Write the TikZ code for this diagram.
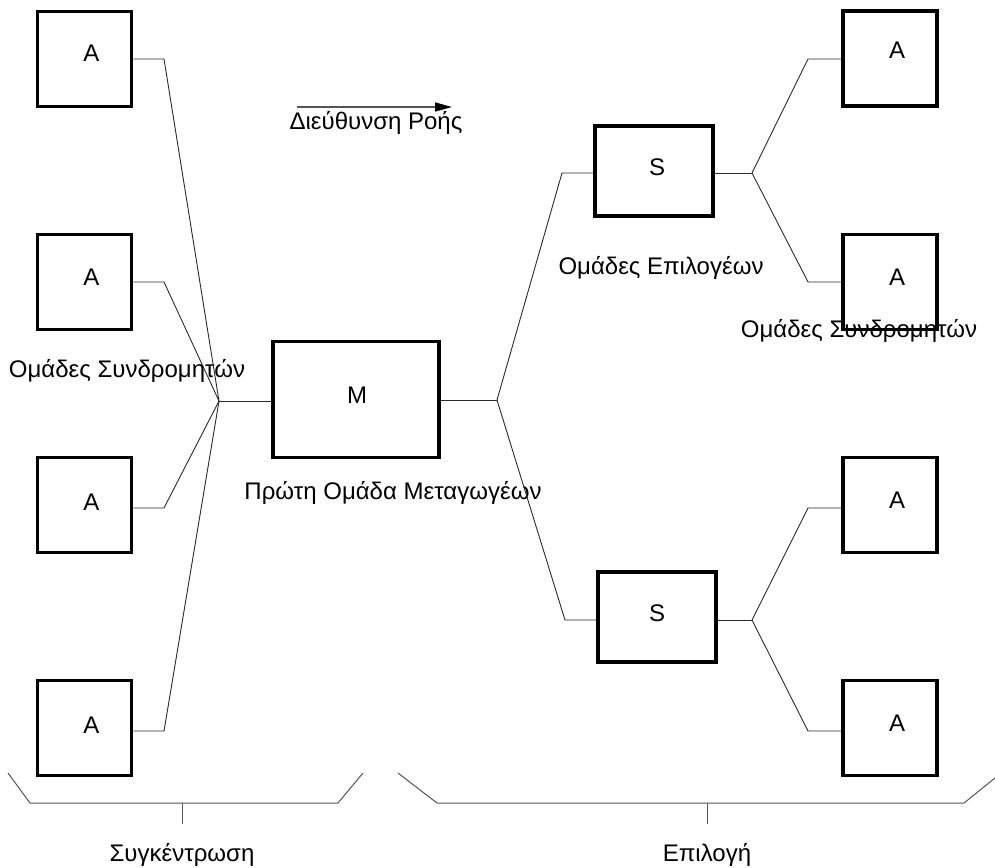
\documentclass[tikz,border=0pt]{standalone}
\usepackage{fontspec}
\setmainfont{Liberation Sans}
\usetikzlibrary{arrows.meta,positioning,calc}
\definecolor{wirec}{HTML}{2A2A2A}
\definecolor{bracec}{HTML}{555555}

\begin{document}
\begin{tikzpicture}[x=1pt,y=-1pt,font=\fontsize{24}{28}\selectfont,
    abox/.style={draw,line width=3.6pt,minimum width=94pt,minimum height=95pt,inner sep=0pt},
    sbox/.style={draw,line width=3.6pt,minimum width=118pt,minimum height=90pt,inner sep=0pt},
    mbox/.style={draw,line width=3.6pt,minimum width=166pt,minimum height=116pt,inner sep=0pt},
    wire/.style={draw=wirec,line width=0.9pt},
    bracket/.style={draw=bracec,line width=1pt},
    lbl/.style={inner sep=0pt}]
    \useasboundingbox (0,0) rectangle (995,867);
    % left subscriber groups
    \node[abox] (a1) at (84.5,59) {};
    \node[lbl] (a1t) at (91.5,53) {A};
    \node[abox] (a2) at (84.5,282) {};
    \node[lbl] (a2t) at (91.5,277) {A};
    \node[abox] (a3) at (84.5,505) {};
    \node[lbl] (a3t) at (91.5,502) {A};
    \node[abox] (a4) at (84.5,728) {};
    \node[lbl] (a4t) at (91.5,725) {A};
    \node[lbl] (lsub) at (127,371) {Ομάδες Συνδρομητών};
    % first switch group
    \node[mbox] (m) at (356,399.5) {};
    \node[lbl] (mt) at (357,395) {M};
    \node[lbl] (mlbl) at (393,493) {Πρώτη Ομάδα Μεταγωγέων};
    % selector groups
    \node[sbox] (s1) at (654,170.7) {};
    \node[lbl] (s1t) at (657,167) {S};
    \node[lbl] (slbl) at (661,268) {Ομάδες Επιλογέων};
    \node[sbox] (s2) at (657,617) {};
    \node[lbl] (s2t) at (657,613) {S};
    % right subscriber groups
    \node[abox] (a5) at (889.8,58.7) {};
    \node[lbl] (a5t) at (897,50) {A};
    \node[abox] (a6) at (889.8,282) {};
    \node[lbl] (a6t) at (897,277) {A};
    \node[abox] (a7) at (889.8,505) {};
    \node[lbl] (a7t) at (897,500) {A};
    \node[abox] (a8) at (889.8,728) {};
    \node[lbl] (a8t) at (897,723) {A};
    \node[lbl] (rsub) at (859,331) {Ομάδες Συνδρομητών};
    % junctions and bends
    \coordinate (jl) at (219,401);
    \coordinate (jm) at (497,400);
    \coordinate (js1) at (752,173);
    \coordinate (js2) at (752,620);
    \coordinate (k1) at (164,59);
    \coordinate (k2) at (164,282);
    \coordinate (k3) at (164,508);
    \coordinate (k4) at (164,731);
    \coordinate (ks1) at (562,173);
    \coordinate (ks2) at (565,620);
    \coordinate (k5) at (808,59);
    \coordinate (k6) at (808,282);
    \coordinate (k7) at (808,508);
    \coordinate (k8) at (808,731);
    \draw[wire] (a1.east |- k1) -- (k1) -- (jl);
    \draw[wire] (a2.east |- k2) -- (k2) -- (jl);
    \draw[wire] (a3.east |- k3) -- (k3) -- (jl);
    \draw[wire] (a4.east |- k4) -- (k4) -- (jl);
    \draw[wire] (jl) -- (m.west |- jl);
    \draw[wire] (m.east |- jm) -- (jm);
    \draw[wire] (jm) -- (ks1) -- (s1.west |- ks1);
    \draw[wire] (jm) -- (ks2) -- (s2.west |- ks2);
    \draw[wire] (s1.east |- js1) -- (js1);
    \draw[wire] (s2.east |- js2) -- (js2);
    \draw[wire] (js1) -- (k5) -- (a5.west |- k5);
    \draw[wire] (js1) -- (k6) -- (a6.west |- k6);
    \draw[wire] (js2) -- (k7) -- (a7.west |- k7);
    \draw[wire] (js2) -- (k8) -- (a8.west |- k8);
    % flow direction
    \coordinate (fa) at (297,107);
    \coordinate (fb) at (452,107);
    \draw[draw=bracec,line width=1.4pt,-{Triangle[length=17pt,width=9pt,color=black]}] (fa) -- (fb);
    \node[lbl] (flow) at (376,123) {Διεύθυνση Ροής};
    % brackets
    \draw[bracket] (8,773) -- (30,803) -- (338,803) -- (363,773);
    \draw[bracket] (182,803) -- (182,824);
    \node[lbl] (conc) at (182,855) {Συγκέντρωση};
    \draw[bracket] (398,773) -- (437,803) -- (964,803) -- (995,778);
    \draw[bracket] (707,803) -- (707,824);
    \node[lbl] (sel) at (707,855) {Επιλογή};
  \end{tikzpicture}
\end{document}
